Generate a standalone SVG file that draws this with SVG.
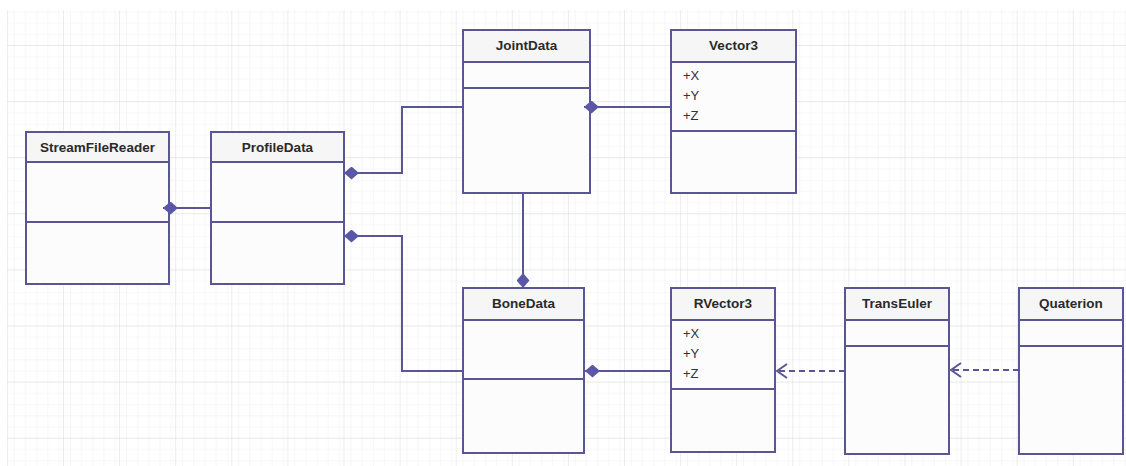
<svg xmlns="http://www.w3.org/2000/svg" width="1126" height="466" viewBox="0 0 1126 466">
  <style>
    .box{fill:#fcfcfc;stroke:#5a5696;stroke-width:2}
    .hdr{fill:#f6f6f6;stroke:#5a5696;stroke-width:2}
    .div{stroke:#5a5696;stroke-width:2}
    .title{font-family:"Liberation Sans",Arial,sans-serif;font-size:13.5px;font-weight:bold;fill:#2a2a2a;text-anchor:middle}
    .attr{font-family:"Liberation Sans",Arial,sans-serif;font-size:13px;fill:#333}
    .conn{fill:none;stroke:#5a5696;stroke-width:2}
    .dash{stroke-dasharray:6 4}
  </style>
  <defs>
    <pattern id="minor" x="6.9" y="-11.1" width="11.22" height="11.22" patternUnits="userSpaceOnUse">
      <path d="M0,0 V11.22 M0,0 H11.22" fill="none" stroke="#efefef" stroke-width="1"/>
    </pattern>
    <pattern id="major" x="6.9" y="-11.1" width="56.1" height="56.1" patternUnits="userSpaceOnUse">
      <rect width="56.1" height="56.1" fill="url(#minor)"/>
      <path d="M0,0 V56.1 M0,0 H56.1" fill="none" stroke="#d9d9d9" stroke-width="1"/>
    </pattern>
    <marker id="diamond" viewBox="0 0 15 13" refX="0" refY="6.5" markerWidth="15" markerHeight="13" markerUnits="userSpaceOnUse" orient="auto">
      <path d="M0,6.5 L7.5,0 L15,6.5 L7.5,13 Z" fill="#5b57a6"/>
    </marker>
    <marker id="open" viewBox="0 0 12 16" refX="11" refY="8" markerWidth="12" markerHeight="16" markerUnits="userSpaceOnUse" orient="auto">
      <path d="M1,1 L11,8 L1,15" fill="none" stroke="#5a5696" stroke-width="2"/>
    </marker>
  </defs>
  <rect width="1126" height="466" fill="#ffffff"/>
  <rect x="7" y="10" width="1119" height="456" fill="url(#major)"/>

  <g id="StreamFileReader">
    <rect class="box" x="26" y="132" width="143" height="152"/>
    <rect class="hdr" x="26" y="132" width="143" height="30"/>
    <line class="div" x1="26" y1="222" x2="169" y2="222"/>
    <text class="title" x="97.5" y="151.5">StreamFileReader</text>
  </g>
  <g id="ProfileData">
    <rect class="box" x="211" y="132" width="133" height="152"/>
    <rect class="hdr" x="211" y="132" width="133" height="30"/>
    <line class="div" x1="211" y1="222" x2="344" y2="222"/>
    <text class="title" x="277.5" y="151.5">ProfileData</text>
  </g>
  <g id="JointData">
    <rect class="box" x="463" y="30" width="127" height="163"/>
    <rect class="hdr" x="463" y="30" width="127" height="32"/>
    <line class="div" x1="463" y1="88" x2="590" y2="88"/>
    <text class="title" x="526.5" y="49.5">JointData</text>
  </g>
  <g id="Vector3">
    <rect class="box" x="671" y="30" width="125" height="163"/>
    <rect class="hdr" x="671" y="30" width="125" height="32"/>
    <line class="div" x1="671" y1="131" x2="796" y2="131"/>
    <text class="title" x="733.5" y="49.5">Vector3</text>
    <text class="attr" x="683" y="79.5">+X</text>
    <text class="attr" x="683" y="99.5">+Y</text>
    <text class="attr" x="683" y="119.5">+Z</text>
  </g>
  <g id="BoneData">
    <rect class="box" x="463" y="288" width="121" height="165"/>
    <rect class="hdr" x="463" y="288" width="121" height="32"/>
    <line class="div" x1="463" y1="379" x2="584" y2="379"/>
    <text class="title" x="523.5" y="307.5">BoneData</text>
  </g>
  <g id="RVector3">
    <rect class="box" x="671" y="288" width="104" height="164"/>
    <rect class="hdr" x="671" y="288" width="104" height="32"/>
    <line class="div" x1="671" y1="389" x2="775" y2="389"/>
    <text class="title" x="723" y="307.5">RVector3</text>
    <text class="attr" x="683" y="337.5">+X</text>
    <text class="attr" x="683" y="357.5">+Y</text>
    <text class="attr" x="683" y="377.5">+Z</text>
  </g>
  <g id="TransEuler">
    <rect class="box" x="845" y="288" width="104" height="166"/>
    <rect class="hdr" x="845" y="288" width="104" height="32"/>
    <line class="div" x1="845" y1="346" x2="949" y2="346"/>
    <text class="title" x="897" y="307.5">TransEuler</text>
  </g>
  <g id="Quaterion">
    <rect class="box" x="1019" y="288" width="104" height="166"/>
    <rect class="hdr" x="1019" y="288" width="104" height="32"/>
    <line class="div" x1="1019" y1="346" x2="1123" y2="346"/>
    <text class="title" x="1071" y="307.5">Quaterion</text>
  </g>

  <g id="connectors">
    <path class="conn" d="M163,208 L211,208" marker-start="url(#diamond)"/>
    <path class="conn" d="M344,173 L402,173 L402,107 L463,107" marker-start="url(#diamond)"/>
    <path class="conn" d="M344,236 L402,236 L402,371 L463,371" marker-start="url(#diamond)"/>
    <path class="conn" d="M584,107 L671,107" marker-start="url(#diamond)"/>
    <path class="conn" d="M523,288 L523,193" marker-start="url(#diamond)"/>
    <path class="conn" d="M585,371 L671,371" marker-start="url(#diamond)"/>
    <path class="conn dash" d="M845,371 L777,371" marker-end="url(#open)"/>
    <path class="conn dash" d="M1019,370 L951,370" marker-end="url(#open)"/>
  </g>
</svg>
